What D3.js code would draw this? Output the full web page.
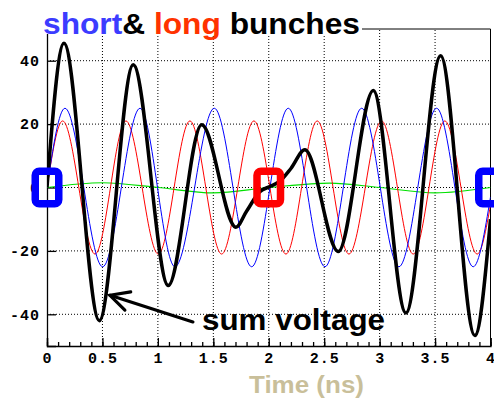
<!DOCTYPE html>
<html>
<head>
<meta charset="utf-8">
<script src="https://cdn.jsdelivr.net/npm/d3@7/dist/d3.min.js"></script>
<style>
  html, body { margin: 0; padding: 0; background: #fff; }
  svg { display: block; }
</style>
</head>
<body>
<script>
// ---- data ----
const xTicks = [0, 0.5, 1, 1.5, 2, 2.5, 3, 3.5, 4];
const xTickLabels = ["0", "0.5", "1", "1.5", "2", "2.5", "3", "3.5", "4"];
const xMinorTicks = d3.range(0, 40.5, 1).map(d => d / 10);
const yTicks = [-40, -20, 0, 20, 40];
const yTickLabels = ["-40", "-20", "0", "20", "40"];

// short bunch (blue)
const shortT = [0, 0.162, 0.502, 0.839, 1.154, 1.509, 1.846, 2.176, 2.507, 2.838, 3.174, 3.514, 3.844, 4.0];
const shortV = [0, 25, -25, 25, -25, 25, -25, 25, -25, 25, -25, 25, -25, -3];
// long bunch (red)
const longT = [0, 0.141, 0.433, 0.712, 1.004, 1.289, 1.575, 1.866, 2.155, 2.437, 2.723, 3.018, 3.303, 3.588, 3.88, 4.0];
const longV = [0, 21, -21, 21, -21, 21, -21, 21, -21, 21, -21, 21, -21, 21, -21, -5.5];
// green
const greenT = [0, 0.5, 1.0, 1.5, 2.0, 2.55, 3.0, 3.5, 4.0];
const greenV = [0, 1.5, 0, -1.7, 0, 1.4, 0, -1.7, 0];
// sum voltage (black)
const sumT = [0, 0.153, 0.472, 0.778, 1.094, 1.395, 1.704, 1.80, 1.92, 2.01, 2.10, 2.20, 2.326, 2.627, 2.943, 3.237, 3.55, 3.859, 4.0];
const sumV = [0, 45.5, -42, 38.7, -30.9, 19.8, -12.5, -7.5, -1.3, 0.3, 2, 6, 11.9, -20.2, 30.6, -39.6, 41.6, -46.7, -10];

// bunch markers
const markerT = [0, 2, 4];
const markerV = [0, 0, 0];
const markerColors = ["#0000ff", "#ff0000", "#0000ff"];

// annotation (data coordinates)
const arrowTip = [0.568, -34];
const arrowTail = [1.316, -42.4];
const annotLabel = "sum voltage";
const annotPos = [1.398, -44.9];

const titleParts = [["short", "#3c3cff"], ["& ", "#000"], ["long ", "#ff3300"], ["bunches", "#000"]];
const xTitle = "Time (ns)";

// ---- drawing ----
const W = 494, H = 400;
const svg = d3.select("body").append("svg").attr("width", W).attr("height", H);

const x = d3.scaleLinear().domain([0, 4]).range([47, 490.5]);
const y = d3.scaleLinear().domain([-50, 50]).range([346, 29]);

const defs = svg.append("defs");
defs.append("clipPath").attr("id", "plotclip")
  .append("rect").attr("x", x(0)).attr("y", y(50)).attr("width", x(4) - x(0)).attr("height", y(-50) - y(50));

// grid
const grid = svg.append("g");
grid.selectAll("line.gx").data(xTicks.filter(d => d > 0 && d < 4)).join("line")
  .attr("x1", d => x(d)).attr("x2", d => x(d)).attr("y1", y(-50)).attr("y2", y(50))
  .attr("stroke", "#000").attr("stroke-width", 1).attr("stroke-dasharray", "1,2");
grid.selectAll("line.gy").data(yTicks).join("line")
  .attr("x1", x(0)).attr("x2", x(4)).attr("y1", d => y(d)).attr("y2", d => y(d))
  .attr("stroke", "#000").attr("stroke-width", 1).attr("stroke-dasharray", "1,2");

// frame (top and right)
svg.append("line").attr("x1", x(0)).attr("x2", x(4)).attr("y1", y(50)).attr("y2", y(50)).attr("stroke", "#000");
svg.append("line").attr("x1", x(4)).attr("x2", x(4)).attr("y1", y(50)).attr("y2", y(-50)).attr("stroke", "#000");

// axes
const monoFont = "'Liberation Mono', 'DejaVu Sans Mono', monospace";
const xAxis = svg.append("g").attr("transform", `translate(0,${y(-50)})`)
  .call(d3.axisBottom(x).tickValues(xTicks).tickSize(-8).tickPadding(6)
    .tickFormat((d, i) => xTickLabels[i]));
const xMinor = svg.append("g").attr("transform", `translate(0,${y(-50)})`)
  .call(d3.axisBottom(x).tickValues(xMinorTicks).tickSize(-4).tickFormat(""));
xMinor.select(".domain").remove();
const yAxis = svg.append("g").attr("transform", `translate(${x(0)},0)`)
  .call(d3.axisLeft(y).tickValues(yTicks).tickSize(-9).tickPadding(7)
    .tickFormat((d, i) => yTickLabels[i]));
[xAxis, yAxis, xMinor].forEach(g => {
  g.selectAll("path.domain").attr("stroke", "#000").attr("stroke-width", 1.3);
  g.selectAll(".tick line").attr("stroke", "#000").attr("stroke-width", 1.3);
  g.selectAll(".tick text").attr("fill", "#000")
    .attr("font-family", monoFont).attr("font-weight", "bold").attr("font-size", 15)
    .attr("letter-spacing", 1);
});

// curves
const plot = svg.append("g").attr("clip-path", "url(#plotclip)");
const line = d3.line().x(d => x(d[0])).y(d => y(d[1])).curve(d3.curveMonotoneX);
const zipper = (t, v) => t.map((d, i) => [d, v[i]]);
plot.append("path").datum(zipper(greenT, greenV)).attr("d", line)
  .attr("fill", "none").attr("stroke", "#00e000").attr("stroke-width", 1.2);
plot.append("path").datum(zipper(longT, longV)).attr("d", line)
  .attr("fill", "none").attr("stroke", "#ff0000").attr("stroke-width", 1);
plot.append("path").datum(zipper(shortT, shortV)).attr("d", line)
  .attr("fill", "none").attr("stroke", "#0000ff").attr("stroke-width", 1);
plot.append("path").datum(zipper(sumT, sumV)).attr("d", line)
  .attr("fill", "none").attr("stroke", "#000").attr("stroke-width", 3.5)
  .attr("stroke-linejoin", "round");

// bunch markers
svg.selectAll("rect.mk").data(markerT).join("rect").attr("class", "mk")
  .attr("x", d => x(d) - 11.75).attr("y", (d, i) => y(markerV[i]) - 16.25)
  .attr("width", 23.5).attr("height", 32.5).attr("rx", 4).attr("ry", 4)
  .attr("fill", "none").attr("stroke", (d, i) => markerColors[i]).attr("stroke-width", 7.5);

// arrow annotation
const tip = [x(arrowTip[0]), y(arrowTip[1])];
const tail = [x(arrowTail[0]), y(arrowTail[1])];
const ang = Math.atan2(tail[1] - tip[1], tail[0] - tip[0]);
const headLen = 21, headAng = 27 * Math.PI / 180;
const arrow = svg.append("g").attr("stroke", "#000").attr("stroke-width", 3.2).attr("stroke-linecap", "round").attr("fill", "none");
arrow.append("line").attr("x1", tail[0]).attr("y1", tail[1]).attr("x2", tip[0]).attr("y2", tip[1]);
arrow.append("path").attr("d", d3.line()([
  [tip[0] + headLen * Math.cos(ang - headAng), tip[1] + headLen * Math.sin(ang - headAng)],
  tip,
  [tip[0] + headLen * Math.cos(ang + headAng), tip[1] + headLen * Math.sin(ang + headAng)]
])).attr("stroke-linejoin", "miter");

svg.append("text").attr("x", x(annotPos[0])).attr("y", y(annotPos[1]))
  .attr("font-family", "'Liberation Sans', Arial, sans-serif").attr("font-weight", "bold")
  .attr("font-size", 30).attr("textLength", 183).attr("lengthAdjust", "spacingAndGlyphs")
  .attr("fill", "#000").text(annotLabel);

// title box + title
svg.append("rect").attr("x", 40).attr("y", 0).attr("width", 322).attr("height", 34).attr("fill", "#fff");
const title = svg.append("text").attr("x", 43).attr("y", 34)
  .attr("font-family", "'Liberation Sans', Arial, sans-serif").attr("font-weight", "bold")
  .attr("font-size", 29).attr("textLength", 317).attr("lengthAdjust", "spacingAndGlyphs");
title.selectAll("tspan").data(titleParts).join("tspan")
  .attr("fill", d => d[1]).text(d => d[0]).style("white-space", "pre");

// x axis title
svg.append("text").attr("x", 249).attr("y", 393)
  .attr("font-family", "'Liberation Sans', Arial, sans-serif").attr("font-weight", "bold")
  .attr("font-size", 23).attr("textLength", 115).attr("lengthAdjust", "spacingAndGlyphs")
  .attr("fill", "#c9bf9a").text(xTitle);
</script>
</body>
</html>
